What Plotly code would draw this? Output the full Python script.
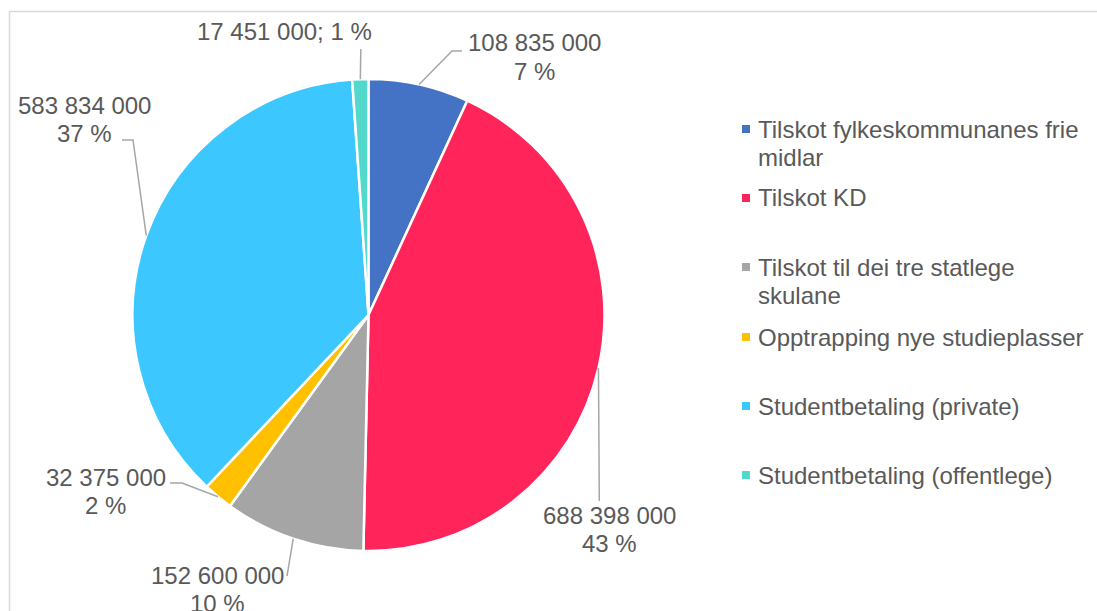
import math
import plotly.graph_objects as go

# data
labels = [
    'Tilskot fylkeskommunanes frie midlar',
    'Tilskot KD',
    'Tilskot til dei tre statlege skulane',
    'Opptrapping nye studieplasser',
    'Studentbetaling (private)',
    'Studentbetaling (offentlege)',
]
legend_lines = [
    ['Tilskot fylkeskommunanes frie', 'midlar'],
    ['Tilskot KD'],
    ['Tilskot til dei tre statlege', 'skulane'],
    ['Opptrapping nye studieplasser'],
    ['Studentbetaling (private)'],
    ['Studentbetaling (offentlege)'],
]
values = [108835000, 688398000, 152600000, 32375000, 583834000, 17451000]
colors = ['#4472C4', '#FF2459', '#A5A5A5', '#FFC000', '#3CC8FF', '#52D9CB']

W, H = 1097, 611
CX, CY, R = 368.5, 315, 236
TXT = '#595959'
FONT = 'Liberation Sans, Arial, sans-serif'
FS = 24
LH = 28.5


def fx(x):
    return x / W


def fy(y):
    return 1 - y / H


def num(v):
    return f'{v:,}'.replace(',', ' ')


def add_text(anns, x, y, t, anchor='center'):
    anns.append(dict(
        x=fx(x), y=fy(y), xref='paper', yref='paper', text=t, showarrow=False,
        xanchor=anchor, yanchor='middle',
        font=dict(size=FS, color=TXT, family=FONT)))


total = sum(values)
pct = [round(v / total * 100) for v in values]

fig = go.Figure()
fig.add_trace(go.Pie(
    labels=labels, values=values, sort=False, direction='clockwise', rotation=0,
    marker=dict(colors=colors, line=dict(color='white', width=2.5)),
    textinfo='none', showlegend=False,
    domain=dict(x=[fx(CX - R), fx(CX + R)], y=[fy(CY + R), fy(CY - R)]),
))

# anchor points on pie edge at mid-angle of each slice
anchors = []
cum = 0
for v in values:
    a = (cum + v / 2) / total * 2 * math.pi
    anchors.append((CX + R * math.sin(a), CY - R * math.cos(a)))
    cum += v

# label placement: (text center x, first line y, leader path points after anchor)
lab_pos = [
    (534, 43, [(452, 51), (462, 51)]),
    (609, 515, [(599.3, 501)]),
    (217, 575, [(287, 576)]),
    (105.5, 477, [(182, 483), (170, 483)]),
    (84, 105, [(133, 140), (122, 140)]),
    (284.5, 32, [(360.8, 49)]),
]

shapes = []
annotations = []
for i, (tx, ty, pts) in enumerate(lab_pos):
    if i == 5:
        add_text(annotations, tx, ty, f'{num(values[i])}; {pct[i]} %')
    else:
        add_text(annotations, tx, ty, num(values[i]))
        add_text(annotations, tx, ty + LH, f'{pct[i]} %')
    path = 'M {} {}'.format(fx(anchors[i][0]), fy(anchors[i][1]))
    for px, py in pts:
        path += ' L {} {}'.format(fx(px), fy(py))
    shapes.append(dict(type='path', xref='paper', yref='paper', path=path,
                       line=dict(color='#A6A6A6', width=1.5)))

# manual legend (Excel-like spacing)
leg_y = [129, 198, 267, 337, 406, 475]
for i, lines in enumerate(legend_lines):
    y = leg_y[i]
    shapes.append(dict(type='rect', xref='paper', yref='paper',
                       x0=fx(742), x1=fx(750), y0=fy(y + 4), y1=fy(y - 4),
                       fillcolor=colors[i], line=dict(width=0)))
    for k, t in enumerate(lines):
        add_text(annotations, 756, y + k * LH, t, anchor='left')

# chart frame
shapes.append(dict(type='rect', xref='paper', yref='paper',
                   x0=fx(9.5), x1=fx(1200), y0=fy(800), y1=fy(11.5),
                   line=dict(color='#D9D9D9', width=1.5), fillcolor='rgba(0,0,0,0)'))

fig.update_layout(
    width=W, height=H, margin=dict(l=0, r=0, t=0, b=0),
    paper_bgcolor='white', plot_bgcolor='white',
    shapes=shapes, annotations=annotations,
)
fig.write_html('out.html', config={'displayModeBar': False},
               post_script="document.body.style.margin='0';")
